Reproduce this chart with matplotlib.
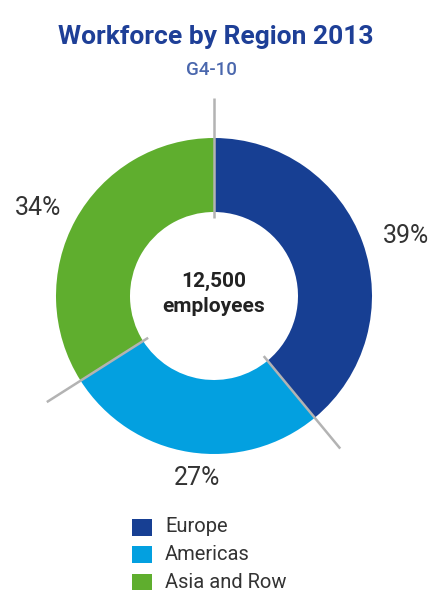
import matplotlib
matplotlib.use('Agg')
import matplotlib.pyplot as plt
import matplotlib.patches as mpatches
import numpy as np

# data
regions = ['Europe', 'Americas', 'Asia and Row']
shares = [39, 27, 34]
colors = ['#173f93', '#03a0e0', '#5fae2e']
total_employees = '12,500'

plt.rcParams['font.family'] = ['Roboto', 'DejaVu Sans']

W, H = 432, 590
fig = plt.figure(figsize=(W / 100, H / 100), dpi=100)
ax = fig.add_axes([0, 0, 1, 1])

# pixel helpers (y measured from top)
def py(y):
    return H - y

cx, cy = 214, py(296)
R_out, R_in = 158, 84

ax.pie(shares, colors=colors, startangle=90, counterclock=False,
       center=(cx, cy), radius=R_out, frame=True,
       wedgeprops=dict(width=R_out - R_in, linewidth=0))
ax.set_xlim(0, W)
ax.set_ylim(0, H)
ax.set_aspect('equal')
ax.axis('off')

# separator lines at each wedge boundary
bounds = np.cumsum([0] + shares[:-1])
for b in bounds:
    ang = np.deg2rad(90 - b / sum(shares) * 360)
    r0, r1 = 78, 198
    ax.plot([cx + r0 * np.cos(ang), cx + r1 * np.cos(ang)],
            [cy + r0 * np.sin(ang), cy + r1 * np.sin(ang)],
            color='#b3b3b3', lw=1.8, solid_capstyle='butt', zorder=5)

# percentage labels
label_pos = [(406, 236), (197, 478), (38, 208)]
for s, (x, y) in zip(shares, label_pos):
    ax.text(x, py(y), f'{s}%', ha='center', va='center',
            fontsize=18, color='#333333')

# centre text
ax.text(cx, py(281), total_employees, ha='center', va='center',
        fontsize=15, fontweight='bold', color='#222222')
ax.text(cx, py(307), 'employees', ha='center', va='center',
        fontsize=15, fontweight='bold', color='#222222')

# title and code
ax.text(216, py(37), 'Workforce by Region 2013', ha='center', va='center',
        fontsize=19, fontweight='bold', color='#1e3f97')
ax.text(211, py(70), 'G4-10', ha='center', va='center',
        fontsize=13.5, fontweight='medium', color='#4a67ad')

# legend
for i, (name, col) in enumerate(zip(regions, colors)):
    yc = 527 + i * 27.5
    ax.add_patch(mpatches.Rectangle((132, py(yc + 8.5)), 20, 17,
                                    color=col, lw=0))
    ax.text(165, py(yc), name, ha='left', va='center',
            fontsize=14.5, color='#333333')

fig.savefig('out.png', dpi=100)
